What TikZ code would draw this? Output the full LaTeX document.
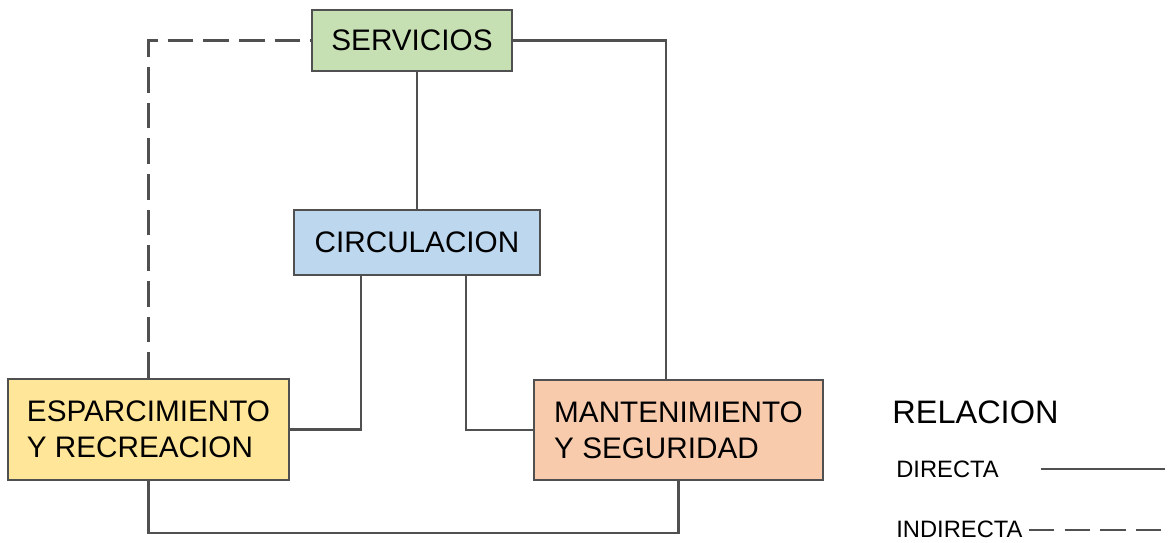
\documentclass[tikz,border=0pt]{standalone}
\usepackage{fontspec}
\setmainfont{Liberation Sans}
\definecolor{verdeserv}{HTML}{C6E0B4}
\definecolor{azulcirc}{HTML}{BDD7EE}
\definecolor{amarilloesp}{HTML}{FFE699}
\definecolor{naranjamant}{HTML}{F8CBAD}
\definecolor{linea}{HTML}{505050}
\begin{document}
\begin{tikzpicture}[x=0.02cm, y=-0.02cm,
        caja/.style={draw=linea, line width=1.2pt, inner sep=0pt, align=left,
                     font=\fontsize{16.9pt}{20.5pt}\selectfont},
        rel/.style={draw=linea, line width=1.2pt},
        relind/.style={rel, dash pattern=on 14.5pt off 5.8pt}]
        \def\fs{13.5pt}  % taille de police pour la legende

        \useasboundingbox (0,0) rectangle (1172,542);

        % Les quatre zones
        \node[caja, fill=verdeserv, minimum width=4cm, minimum height=1.22cm] (serv) at (412,40.5) {SERVICIOS};
        \node[caja, fill=azulcirc, minimum width=4.92cm, minimum height=1.3cm] (circ) at (417,242.5) {CIRCULACION};
        \node[caja, fill=amarilloesp, minimum width=5.62cm, minimum height=2.02cm] (esp) at (148.5,429.5) {ESPARCIMIENTO\\Y RECREACION};
        \node[caja, fill=naranjamant, minimum width=5.78cm, minimum height=2cm] (mant) at (678.5,430) {MANTENIMIENTO\\Y SEGURIDAD};

        % Relations directes
        \draw[rel] (circ.north) -- (circ.north |- serv.south);
        \draw[rel] (serv.east) -| ([xshift=-0.25cm]mant.north);
        \draw[rel] ([xshift=-1.12cm]circ.south) |- (esp.east);
        \draw[rel] ([xshift=0.98cm]circ.south) |- (mant.west);
        \coordinate (bas) at (148.5,533);
        \draw[rel] (esp.south) -- (bas) -| (mant.south);

        % Relation indirecte
        \draw[relind] (esp.north) |- (serv.west);

        % Legende
        \node[anchor=base west, inner sep=0pt, font=\fontsize{18.5pt}{18.5pt}\selectfont] (relacion) at (892,423) {RELACION};
        \node[anchor=base west, inner sep=0pt, font=\fontsize{\fs}{\fs}\selectfont] (dir) at (896,477) {DIRECTA};
        \node[anchor=base west, inner sep=0pt, font=\fontsize{\fs}{\fs}\selectfont] (ind) at (896,537) {INDIRECTA};
        \coordinate (dirA) at (1041,469);
        \coordinate (dirB) at (1165,469);
        \coordinate (indA) at (1029,530);
        \coordinate (indB) at (1165,530);
        \draw[rel] (dirA) -- (dirB);
        \draw[relind] (indA) -- (indB);
\end{tikzpicture}
\end{document}
